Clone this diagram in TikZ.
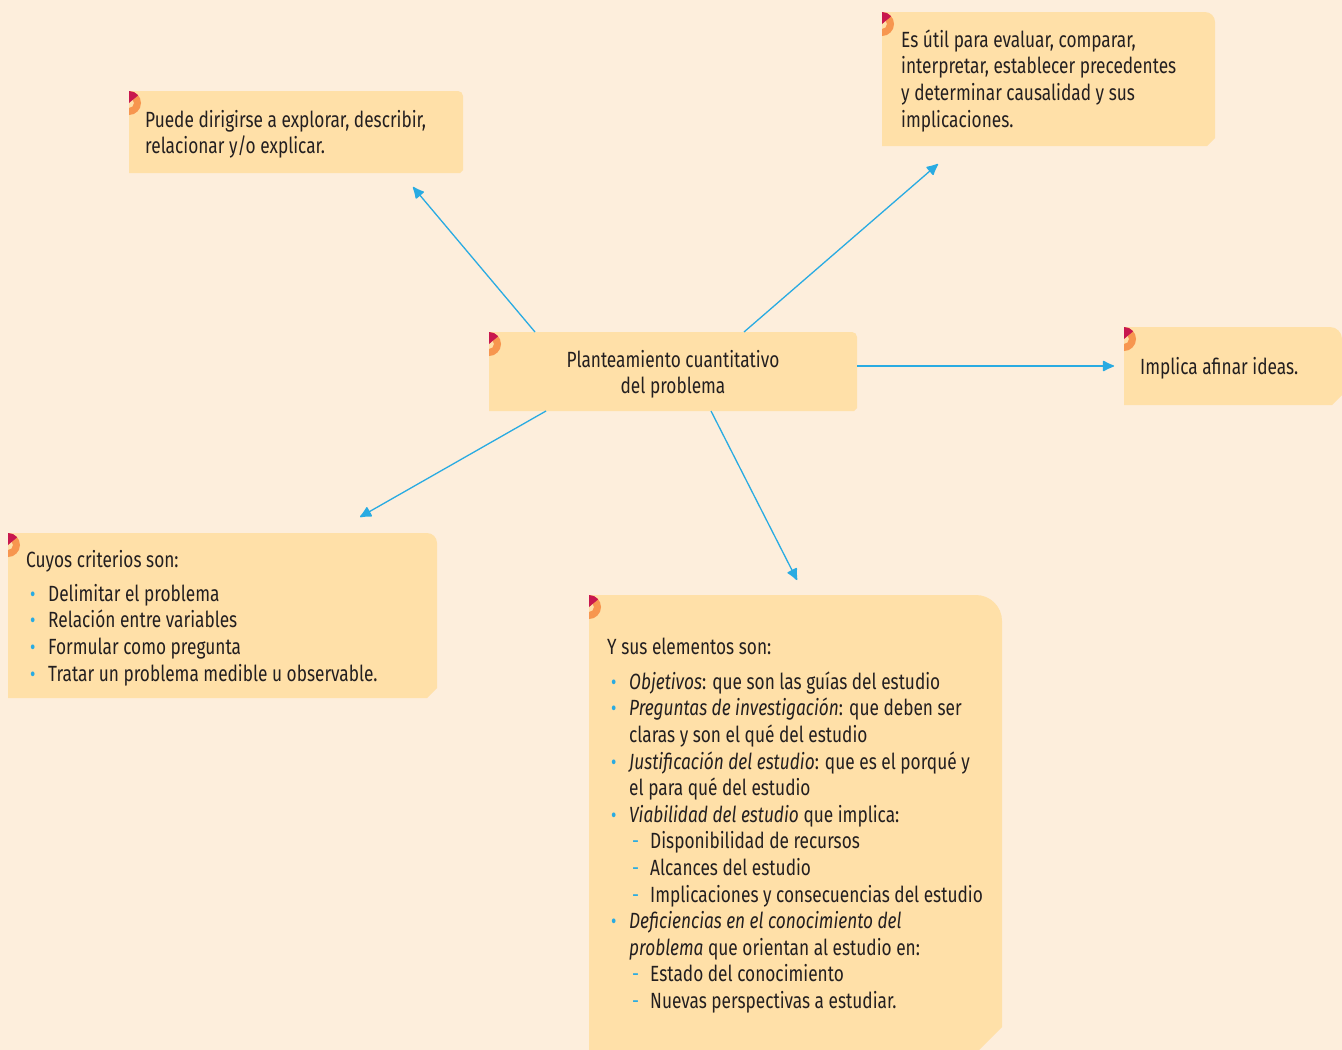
\documentclass[tikz,border=0pt]{standalone}
\usepackage{fontspec}
\setmainfont[FakeStretch=0.785]{Fira Sans}
\usepackage{xcolor}
\usepackage{tikz}
\usetikzlibrary{arrows.meta}

\definecolor{pagebg}{HTML}{FDEEDC}
\definecolor{notefill}{HTML}{FFE0A8}
\definecolor{linkblue}{HTML}{29ABE2}
\definecolor{markorange}{HTML}{F7964F}
\definecolor{markred}{HTML}{C8174E}
\definecolor{inktext}{HTML}{231F20}

% note box: name, corner radius, chamfer
\newcommand{\notebox}[3]{%
  \fill[notefill] (#1.north west) -- ([xshift=-#2]#1.north east)
    arc[start angle=90,end angle=0,radius=#2] -- ([yshift=#3]#1.south east)
    -- ([xshift=-#3]#1.south east) -- (#1.south west) -- cycle;
  \fill[markorange] ([yshift=-12pt]#1.north west) ++(0pt,12pt)
    arc[start angle=90,end angle=-90,radius=12pt] -- ++(0pt,7pt)
    arc[start angle=-90,end angle=90,radius=5pt] -- cycle;
  \fill[markred] ([yshift=-12pt]#1.north west) -- ++(0pt,12pt)
    arc[start angle=90,end angle=40,radius=12pt] -- cycle;}
\newcommand{\itm}[1]{\hspace*{4pt}\makebox[18pt][l]{\textcolor{linkblue}{\fontsize{21}{21}\selectfont\textbullet}}#1}
\newcommand{\cnt}[1]{\hspace*{22pt}#1}
\newcommand{\dsh}[1]{\hspace*{25pt}\makebox[18pt][l]{\textcolor{linkblue}{-}}#1}

\begin{document}
\begin{tikzpicture}[x=1pt,y=-1pt,
    area/.style={rectangle,inner sep=0pt,outer sep=0pt,anchor=north west},
    notetext/.style={inner sep=0pt,anchor=north west,align=left,text=inktext,
      font=\fontsize{22}{26.6}\selectfont},
    link/.style={draw=linkblue,line width=1.3pt,
      -{Latex[length=13pt,width=12pt,round,line width=1.5pt]}}]
  \fill[pagebg] (0,0) rectangle (1342,1050);
  \useasboundingbox (0,0) rectangle (1342,1050);

  % boxes
  \node[area,minimum width=334pt,minimum height=82pt] (puede) at (129,91) {};
  \node[area,minimum width=333pt,minimum height=134pt] (esutil) at (882,12) {};
  \node[area,minimum width=368pt,minimum height=79pt] (plan) at (489,332) {};
  \node[area,minimum width=218pt,minimum height=78pt] (implica) at (1124,327) {};
  \node[area,minimum width=429pt,minimum height=165pt] (cuyos) at (8,533) {};
  \node[area,minimum width=413pt,minimum height=455pt] (ysus) at (589,595) {};
  \notebox{puede}{5pt}{3pt}
  \notebox{esutil}{10pt}{8pt}
  \notebox{plan}{5pt}{3pt}
  \notebox{implica}{12pt}{10pt}
  \notebox{cuyos}{10pt}{10pt}
  \notebox{ysus}{26pt}{23pt}

  % texts
  \node[notetext] (puedetxt) at (145,108.4) {\strut Puede dirigirse a explorar, describir,\\relacionar y/o explicar.};
  \node[notetext] (esutiltxt) at (901,28.4) {\strut Es útil para evaluar, comparar,\\interpretar, establecer precedentes\\y determinar causalidad y sus\\implicaciones.};
  \node[notetext,anchor=north,align=center] (plantxt) at (673,348.4) {\strut Planteamiento cuantitativo\\del problema};
  \node[notetext] (implicatxt) at (1140,355.4) {\strut Implica afinar ideas.};
  \node[notetext] (cuyostxt) at (26,548.4) {\strut Cuyos criterios son:\\[7.4pt]
    \itm{Delimitar el problema}\\
    \itm{Relación entre variables}\\
    \itm{Formular como pregunta}\\
    \itm{Tratar un problema medible u observable.}};
  \node[notetext] (ysustxt) at (607,635.4) {\strut Y sus elementos son:\\[8.4pt]
    \itm{\textit{Objetivos}: que son las guías del estudio}\\
    \itm{\textit{Preguntas de investigación}: que deben ser}\\
    \cnt{claras y son el qué del estudio}\\
    \itm{\textit{Justificación del estudio}: que es el porqué y}\\
    \cnt{el para qué del estudio}\\
    \itm{\textit{Viabilidad del estudio} que implica:}\\
    \dsh{Disponibilidad de recursos}\\
    \dsh{Alcances del estudio}\\
    \dsh{Implicaciones y consecuencias del estudio}\\
    \itm{\textit{Deficiencias en el conocimiento del}}\\
    \cnt{\textit{problema} que orientan al estudio en:}\\
    \dsh{Estado del conocimiento}\\
    \dsh{Nuevas perspectivas a estudiar.}};

  % connectors
  \draw[link] ([xshift=46pt]plan.north west) -- ([xshift=284pt,yshift=-14pt]puede.south west);
  \draw[link] ([xshift=255pt]plan.north west) -- ([xshift=56pt,yshift=-18pt]esutil.south west);
  \draw[link] ([yshift=5.5pt]plan.east) -- ([xshift=-10pt]implica.west);
  \draw[link] ([xshift=57pt]plan.south west) -- ([xshift=352pt,yshift=16pt]cuyos.north west);
  \draw[link] ([xshift=222pt]plan.south west) -- ([xshift=208pt,yshift=15pt]ysus.north west);
\end{tikzpicture}
\end{document}
